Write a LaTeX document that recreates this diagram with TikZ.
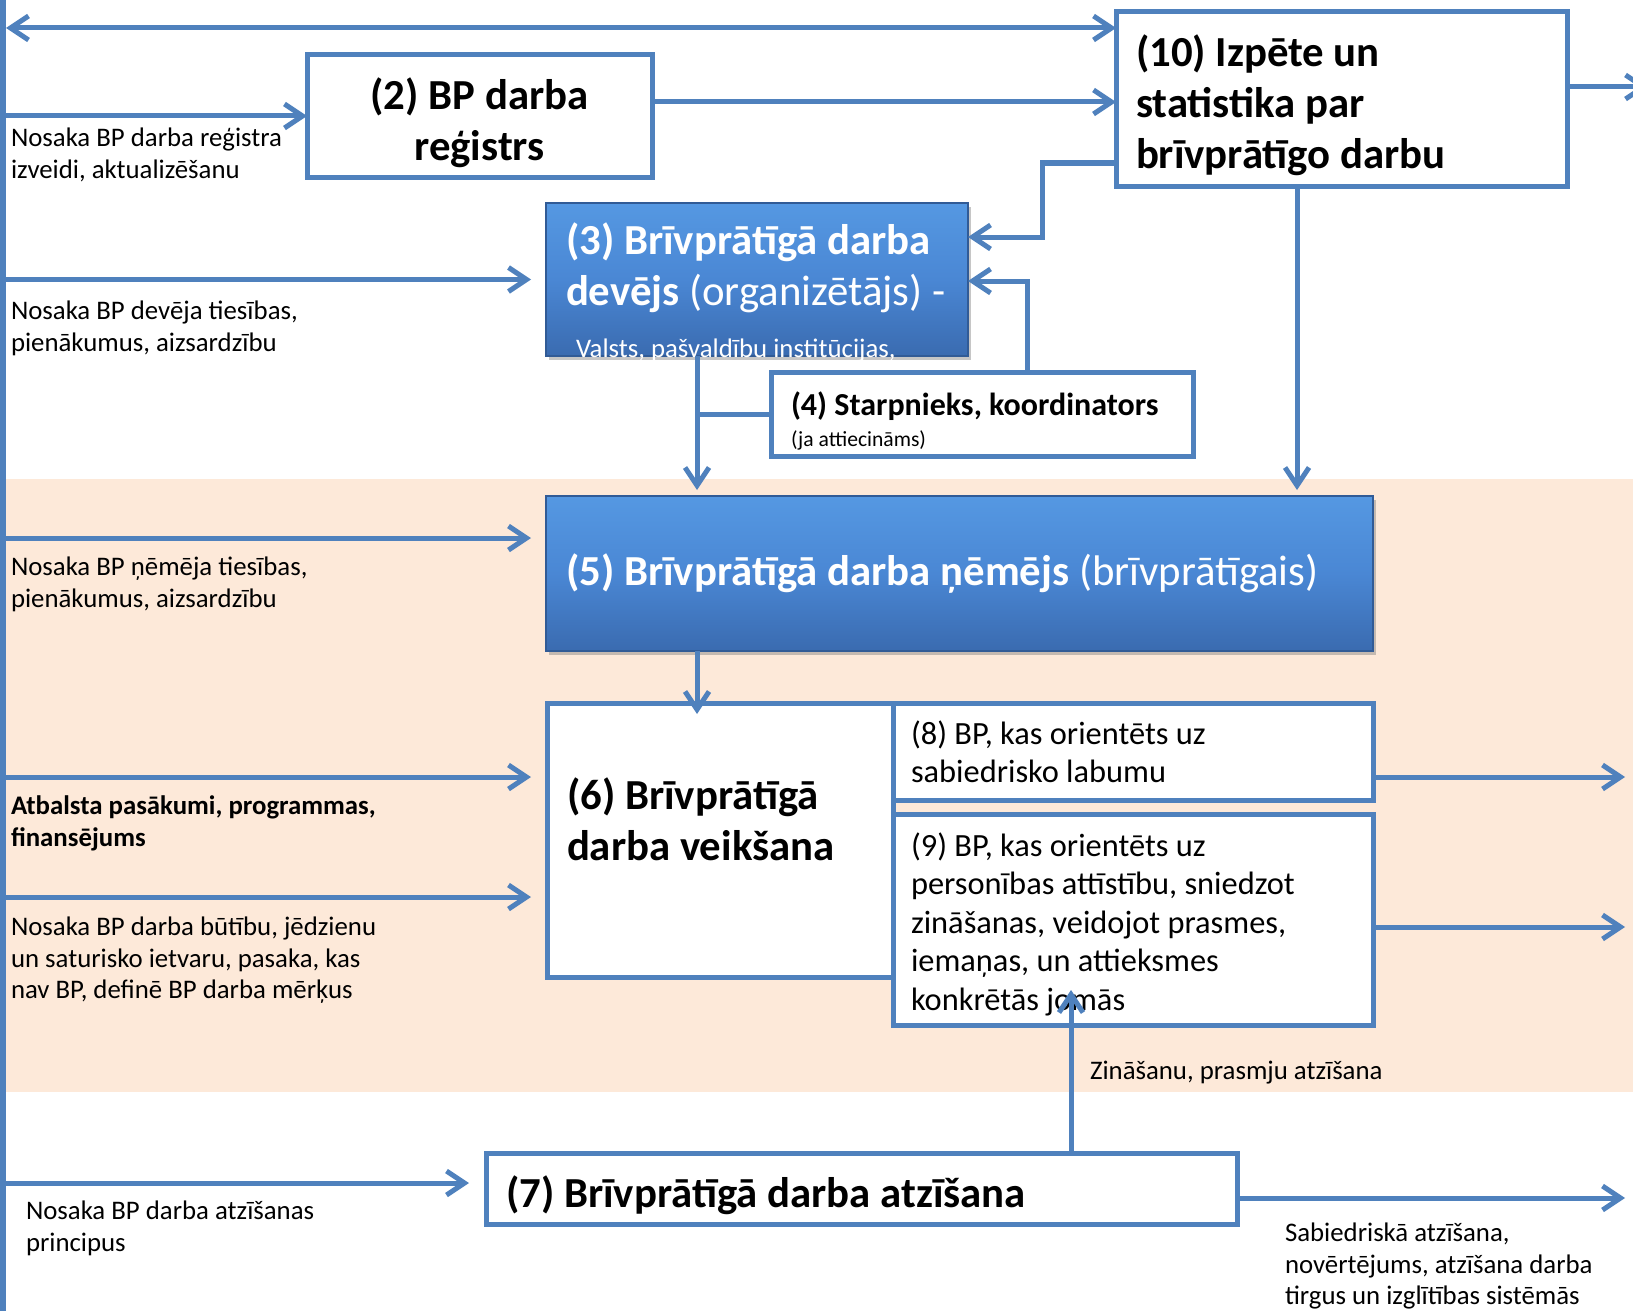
\documentclass[tikz,border=0pt]{standalone}
\usepackage{fontspec}
\setmainfont{Carlito}
\usetikzlibrary{positioning}
\usetikzlibrary{shadows}
\usetikzlibrary{arrows.meta}
\definecolor{lineblue}{HTML}{4F81BD}
\definecolor{peach}{HTML}{FDE9D9}
\definecolor{boxtop}{HTML}{5598E2}
\definecolor{boxmid}{HTML}{4A87D4}
\definecolor{boxbot}{HTML}{3A6BB0}

\begin{document}
\begin{tikzpicture}
[x=0.5pt,y=-0.5pt,
 every node/.style={inner sep=0pt,outer sep=0pt},
 plainbox/.style={draw=lineblue,line width=2.5pt,fill=white,anchor=north west,inner xsep=10pt,align=flush left},
 bluebox/.style={draw=boxbot!85!black,line width=0.8pt,top color=boxtop,bottom color=boxbot,middle color=boxmid,
   drop shadow={opacity=0.45,shadow xshift=1.5pt,shadow yshift=-2pt},anchor=north west,inner xsep=10pt,align=flush left,text=white},
 big/.style={font=\fontsize{21.4}{25.5}\selectfont\bfseries},
 mid/.style={font=\fontsize{16.2}{19.2}\selectfont},
 note/.style={font=\fontsize{13.4}{15.75}\selectfont,align=flush left,anchor=north west},
 link/.style={draw=lineblue,line width=2.5pt},
 arr/.style={link,-{Straight Barb[length=9pt,width=12pt]}},
 both/.style={link,{Straight Barb[length=9pt,width=12pt]}-{Straight Barb[length=9pt,width=12pt]}}]
\useasboundingbox (0,0) rectangle (1633,1311);
\fill[peach] (6,479) rectangle (1633,1092);
\fill[lineblue] (0,0) rectangle (6,1311);

% boxes
\node[plainbox,big,minimum width=225.5pt,minimum height=87pt,text width=205.5pt] (Research) at (1116,12) {\rule{0pt}{22pt}(10) Izpēte un\\statistika par\\brīvprātīgo darbu};
\node[plainbox,big,align=flush center,minimum width=172.5pt,minimum height=61pt,text width=152.5pt] (Registry) at (307,55) {\rule{0pt}{23pt}(2) BP darba\\reģistrs};
\node[bluebox,big,minimum width=211pt,minimum height=76.5pt,text width=191pt] (Organizer) at (546,203) {(3) Brīvprātīgā darba\\devējs \mdseries(organizētājs) -\rule[-15pt]{0pt}{0pt}};
\node[anchor=base west,text=white,font=\fontsize{13.4}{15.75}\selectfont] (OrganizerNote) at (576,357) {Valsts, pašvaldību institūcijas,};
\node[plainbox,font=\fontsize{16}{15.5}\selectfont,minimum width=211pt,minimum height=42pt,text width=191pt] (Mediator) at (771,372) {\rule{0pt}{19pt}{\bfseries (4) Starpnieks, koordinators}\\{\fontsize{10.8}{12}\selectfont (ja attiecināms)}};
\node[bluebox,big,minimum width=413.5pt,minimum height=77.5pt,text width=393.5pt] (Volunteer) at (546,496) {(5) Brīvprātīgā darba ņēmējs \mdseries(brīvprātīgais)};
\node[plainbox,big,minimum width=173pt,minimum height=137pt,text width=153pt] (Doing) at (547,703) {(6) Brīvprātīgā\\darba veikšana\rule[-21pt]{0pt}{0pt}};
\node[plainbox,mid,inner xsep=9pt,minimum width=240pt,minimum height=48.5pt,text width=222pt] (PublicGood) at (893,703) {(8) BP, kas orientēts uz\\sabiedrisko labumu};
\node[plainbox,mid,inner xsep=9pt,minimum width=240pt,minimum height=105.5pt,text width=222pt] (Personal) at (893,814) {\rule{0pt}{16.5pt}(9) BP, kas orientēts uz\\personības attīstību, sniedzot\\zināšanas, veidojot prasmes,\\iemaņas, un attieksmes\\konkrētās jomās};
\node[plainbox,big,minimum width=375.5pt,minimum height=35.5pt,text width=355.5pt] (Recognition) at (486,1153) {\rule{0pt}{23pt}(7) Brīvprātīgā darba atzīšana};

% side texts
\node[note] (RegistryNote) at (11,128) {Nosaka BP darba reģistra\\izveidi, aktualizēšanu};
\node[note] (OrganizerRights) at (11,301) {Nosaka BP devēja tiesības,\\pienākumus, aizsardzību};
\node[note] (VolunteerRights) at (11,557) {Nosaka BP ņēmēja tiesības,\\pienākumus, aizsardzību};
\node[note,font=\fontsize{13.4}{15.75}\selectfont\bfseries] (Support) at (11,796) {Atbalsta pasākumi, programmas,\\finansējums};
\node[note] (Essence) at (11,917) {Nosaka BP darba būtību, jēdzienu\\un saturisko ietvaru, pasaka, kas\\nav BP, definē BP darba mērķus};
\node[note] (Principles) at (26,1201) {Nosaka BP darba atzīšanas\\principus};
\node[note] (SkillsNote) at (1090,1061) {Zināšanu, prasmju atzīšana};
\node[note] (PublicNote) at (1285,1223) {Sabiedriskā atzīšana,\\novērtējums, atzīšana darba\\tirgus un izglītības sistēmās};

% helper coordinates
\coordinate (Rail) at (6,0);
\coordinate (Gap) at (531,0);
\coordinate (RightEdge) at (1625,0);
\coordinate (CutEdge) at (1648,0);
\coordinate (Trunk) at (697,0);
\coordinate (Drop) at (1297,0);
\coordinate (Lift) at (1071,0);
\coordinate (TopIn) at (6,28);
\coordinate (ResearchOut) at (0,87);
\coordinate (RegistryOut) at (0,102);
\coordinate (ResearchLeft) at (0,163);
\coordinate (BendA) at (1042,237);
\coordinate (BendB) at (1027,281);
\coordinate (VolunteerIn) at (0,538);
\coordinate (SupportIn) at (0,777);
\coordinate (EssenceIn) at (0,897);
\coordinate (PersonalOut) at (0,927);
\coordinate (PrinciplesIn) at (0,1183);
\coordinate (RecognitionOut) at (0,1198);

% connectors
\draw[both] (TopIn) -- (TopIn -| Research.west);
\draw[arr] (Rail |- Registry.west) -- (Registry.west);
\draw[arr] (Registry.east |- RegistryOut) -- (Research.west |- RegistryOut);
\draw[arr] (Research.east |- ResearchOut) -- (CutEdge |- ResearchOut);
\draw[arr] (Research.west |- ResearchLeft) -| (BendA) -- (BendA -| Organizer.east);
\draw[arr] (BendB |- Mediator.north) -- (BendB) -- (BendB -| Organizer.east);
\draw[arr] (Rail |- Organizer.west) -- (Gap |- Organizer.west);
\draw[arr,shorten >=3pt] (Trunk |- Organizer.south) -- (Trunk |- Volunteer.north);
\draw[link] (Mediator.west) -- (Trunk |- Mediator.west);
\draw[arr,shorten >=3pt] (Drop |- Research.south) -- (Drop |- Volunteer.north);
\draw[arr] (Rail |- VolunteerIn) -- (Gap |- VolunteerIn);
\draw[arr,shorten >=-5.5pt] (Trunk |- Volunteer.south) -- (Trunk |- Doing.north);
\draw[arr] (Rail |- SupportIn) -- (Gap |- SupportIn);
\draw[arr] (Rail |- EssenceIn) -- (Gap |- EssenceIn);
\draw[arr] (PublicGood.east |- SupportIn) -- (RightEdge |- SupportIn);
\draw[arr] (Personal.east |- PersonalOut) -- (RightEdge |- PersonalOut);
\draw[arr,shorten >=-17.5pt] (Lift |- Recognition.north) -- (Lift |- Personal.south);
\draw[arr,shorten >=8.5pt] (Rail |- PrinciplesIn) -- (Recognition.west |- PrinciplesIn);
\draw[arr] (Recognition.east |- RecognitionOut) -- (RightEdge |- RecognitionOut);
\end{tikzpicture}
\end{document}
